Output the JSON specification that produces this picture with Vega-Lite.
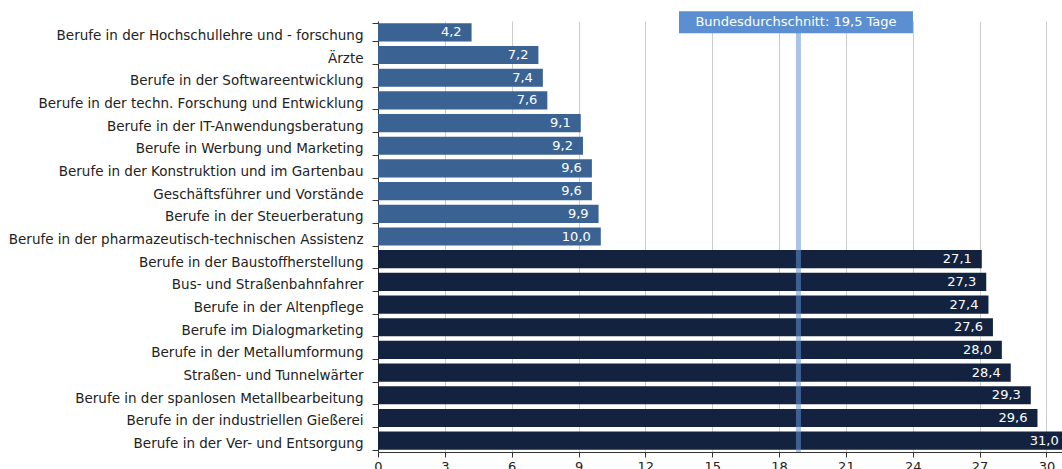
{
  "$schema": "https://vega.github.io/schema/vega-lite/v6.json",
  "autosize": {"type": "none"},
  "padding": {"left": 378, "top": 21, "right": 0, "bottom": 17},
  "width": 684,
  "height": 431,
  "background": "white",
  "config": {
    "view": {"stroke": null},
    "font": "DejaVu Sans"
  },
  "data": {
    "values": [
      {"beruf": "Berufe in der Hochschullehre und - forschung", "tage": 4.2, "label": "4,2", "gruppe": "niedrig"},
      {"beruf": "Ärzte", "tage": 7.2, "label": "7,2", "gruppe": "niedrig"},
      {"beruf": "Berufe in der Softwareentwicklung", "tage": 7.4, "label": "7,4", "gruppe": "niedrig"},
      {"beruf": "Berufe in der techn. Forschung und Entwicklung", "tage": 7.6, "label": "7,6", "gruppe": "niedrig"},
      {"beruf": "Berufe in der IT-Anwendungsberatung", "tage": 9.1, "label": "9,1", "gruppe": "niedrig"},
      {"beruf": "Berufe in Werbung und Marketing", "tage": 9.2, "label": "9,2", "gruppe": "niedrig"},
      {"beruf": "Berufe in der Konstruktion und im Gartenbau", "tage": 9.6, "label": "9,6", "gruppe": "niedrig"},
      {"beruf": "Geschäftsführer und Vorstände ", "tage": 9.6, "label": "9,6", "gruppe": "niedrig"},
      {"beruf": "Berufe in der Steuerberatung", "tage": 9.9, "label": "9,9", "gruppe": "niedrig"},
      {"beruf": "Berufe in der pharmazeutisch-technischen Assistenz", "tage": 10.0, "label": "10,0", "gruppe": "niedrig"},
      {"beruf": "Berufe in der Baustoffherstellung", "tage": 27.1, "label": "27,1", "gruppe": "hoch"},
      {"beruf": "Bus- und Straßenbahnfahrer", "tage": 27.3, "label": "27,3", "gruppe": "hoch"},
      {"beruf": "Berufe in der Altenpflege", "tage": 27.4, "label": "27,4", "gruppe": "hoch"},
      {"beruf": "Berufe im Dialogmarketing", "tage": 27.6, "label": "27,6", "gruppe": "hoch"},
      {"beruf": "Berufe in der Metallumformung", "tage": 28.0, "label": "28,0", "gruppe": "hoch"},
      {"beruf": "Straßen- und Tunnelwärter", "tage": 28.4, "label": "28,4", "gruppe": "hoch"},
      {"beruf": "Berufe in der spanlosen Metallbearbeitung", "tage": 29.3, "label": "29,3", "gruppe": "hoch"},
      {"beruf": "Berufe in der industriellen Gießerei", "tage": 29.6, "label": "29,6", "gruppe": "hoch"},
      {"beruf": "Berufe in der Ver- und Entsorgung ", "tage": 31.0, "label": "31,0", "gruppe": "hoch"}
    ]
  },
  "encoding": {
    "y": {
      "field": "beruf", "type": "nominal", "sort": null,
      "scale": {"paddingInner": 0.2, "paddingOuter": 0.1},
      "axis": {
        "title": null, "tickBand": "extent", "tickSize": 6, "tickColor": "#333", "domainColor": "#333",
        "labelFontSize": 13.5, "labelColor": "#222", "labelPadding": 9, "labelLimit": 400, "labelOffset": 3, "grid": false
      }
    }
  },
  "layer": [
    {
      "mark": {"type": "bar"},
      "encoding": {
        "x": {
          "field": "tage", "type": "quantitative",
          "scale": {"domain": [0, 30.7], "nice": false, "zero": true},
          "axis": {
            "title": null, "values": [0, 3, 6, 9, 12, 15, 18, 21, 24, 27, 30],
            "grid": true, "gridColor": "#cccccc", "gridWidth": 1,
            "tickColor": "#333", "domainColor": "#333", "tickSize": 5,
            "labelFontSize": 13, "labelColor": "#222", "labelPadding": 3, "labelFlush": false
          }
        },
        "color": {
          "field": "gruppe", "type": "nominal", "legend": null,
          "scale": {"domain": ["niedrig", "hoch"], "range": ["#3a6394", "#13233f"]}
        }
      }
    },
    {
      "mark": {"type": "text", "align": "right", "baseline": "middle", "dx": -10, "fontSize": 13, "color": "white"},
      "encoding": {
        "x": {"field": "tage", "type": "quantitative"},
        "text": {"field": "label"}
      }
    },
    {
      "data": {"values": [{"wert": 18.87}]},
      "mark": {"type": "rule", "strokeWidth": 5, "color": "#6293d5", "opacity": 0.55},
      "encoding": {
        "x": {"field": "wert", "type": "quantitative"},
        "y": null
      }
    },
    {
      "data": {"values": [{"von": 13.51, "bis": 24.01, "beruf": "Berufe in der Hochschullehre und - forschung"}]},
      "mark": {"type": "bar", "height": 22, "yOffset": -10, "color": "#5b8fd1"},
      "encoding": {
        "x": {"field": "von", "type": "quantitative"},
        "x2": {"field": "bis"},
        "y": {"field": "beruf", "type": "nominal", "sort": null}
      }
    },
    {
      "data": {"values": [{"mitte": 18.76, "beruf": "Berufe in der Hochschullehre und - forschung", "text": "Bundesdurchschnitt: 19,5 Tage"}]},
      "mark": {"type": "text", "align": "center", "baseline": "middle", "yOffset": -10, "fontSize": 13, "color": "white"},
      "encoding": {
        "x": {"field": "mitte", "type": "quantitative"},
        "y": {"field": "beruf", "type": "nominal", "sort": null},
        "text": {"field": "text"}
      }
    }
  ]
}
